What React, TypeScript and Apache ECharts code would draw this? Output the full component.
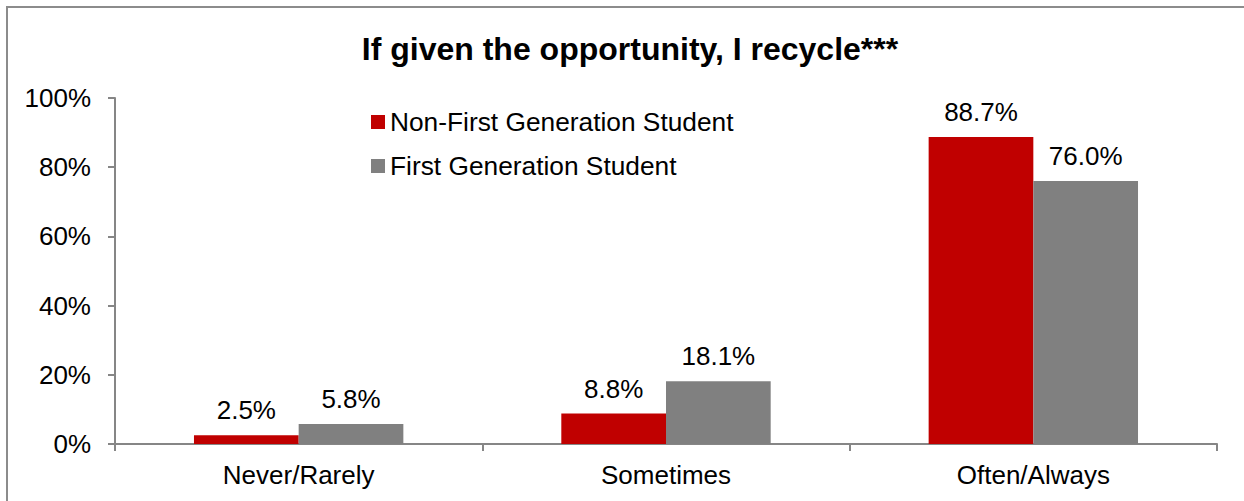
import React, { useEffect, useRef } from "react";
import * as echarts from "echarts";

const categories = ["Never/Rarely", "Sometimes", "Often/Always"];
const nonFirstGen = [2.5, 8.8, 88.7];
const firstGen = [5.8, 18.1, 76.0];
const seriesNames = ["Non-First Generation Student", "First Generation Student"];
const titleText = "If given the opportunity, I recycle***";

const FONT = "Liberation Sans, Arial, sans-serif";

export default function App() {
  const ref = useRef<HTMLDivElement>(null);
  useEffect(() => {
    if (!ref.current) return;
    const chart = echarts.init(ref.current, undefined, { renderer: "svg" });
    const label = {
      show: true,
      position: "top" as const,
      distance: 12,
      color: "#000",
      fontSize: 26,
      fontFamily: FONT,
      formatter: (p: any) => Number(p.value).toFixed(1) + "%",
    };
    chart.setOption({
      animation: false,
      backgroundColor: "#fff",
      textStyle: { fontFamily: FONT },
      title: {
        text: titleText,
        left: 625,
        textAlign: "center",
        top: 28,
        textStyle: { fontSize: 32, fontWeight: "bold", color: "#000", fontFamily: FONT },
      },
      legend: {
        orient: "vertical",
        left: 366,
        top: 104,
        itemGap: 18,
        itemWidth: 14,
        itemHeight: 14,
        icon: "rect",
        textStyle: { fontSize: 26.3, color: "#000", fontFamily: FONT },
        data: seriesNames,
      },
      graphic: [
        {
          type: "rect",
          shape: { x: 7, y: 7, width: 1400, height: 800 },
          style: { fill: "none", stroke: "#8c8c8c", lineWidth: 2 },
          silent: true,
        },
      ],
      grid: { left: 115, right: 27, top: 98, bottom: 57, containLabel: false },
      xAxis: {
        type: "category",
        data: categories,
        axisLine: { lineStyle: { color: "#868686", width: 2 } },
        axisTick: { show: true, length: 7, alignWithLabel: false, lineStyle: { color: "#868686", width: 2 } },
        axisLabel: { fontSize: 26, color: "#000", fontFamily: FONT, margin: 18 },
        splitLine: { show: false },
      },
      yAxis: {
        type: "value",
        min: 0,
        max: 100,
        interval: 20,
        axisLine: { show: true, lineStyle: { color: "#868686", width: 2 } },
        axisTick: { show: true, length: 7, lineStyle: { color: "#868686", width: 2 } },
        axisLabel: { fontSize: 26, color: "#000", fontFamily: FONT, margin: 24, formatter: "{value}%" },
        splitLine: { show: false },
      },
      series: [
        {
          name: seriesNames[0],
          type: "bar",
          data: nonFirstGen,
          itemStyle: { color: "#C00000" },
          barGap: "0%",
          barCategoryGap: "43%",
          label,
        },
        {
          name: seriesNames[1],
          type: "bar",
          data: firstGen,
          itemStyle: { color: "#808080" },
          barGap: "0%",
          barCategoryGap: "43%",
          label,
        },
      ],
    });
    return () => chart.dispose();
  }, []);
  return (
    <div
      ref={ref}
      style={{ position: "fixed", left: 0, top: 0, width: 1244, height: 501 }}
    />
  );
}
